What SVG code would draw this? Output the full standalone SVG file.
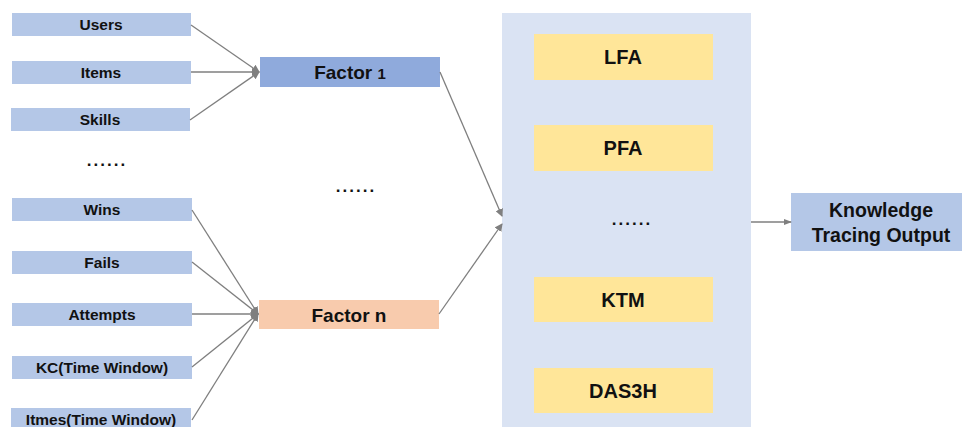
<svg xmlns="http://www.w3.org/2000/svg" width="962" height="427" viewBox="0 0 962 427">
  <style>
    text { font-family: "Liberation Sans", Arial, sans-serif; font-weight: bold; fill: #111; text-anchor: middle; }
    .in rect { fill: #b4c7e7; }
    .in text { font-size: 15.5px; }
    .model rect { fill: #ffe699; }
    .model text { font-size: 20px; }
    .fac text { font-size: 19px; }
    .dots { font-size: 17px; letter-spacing: 2px; }
    .conn line { stroke: #7f7f7f; stroke-width: 1.3; fill: none; }
  </style>
  <defs>
    <marker id="arr" markerWidth="8" markerHeight="8" refX="7" refY="4" orient="auto" markerUnits="userSpaceOnUse">
      <path d="M0,0 L8,4 L0,8 Z" fill="#7f7f7f"/>
    </marker>
    <marker id="arrS" markerWidth="8" markerHeight="6" refX="7" refY="3" orient="auto" markerUnits="userSpaceOnUse">
      <path d="M0,0 L8,3 L0,6 Z" fill="#7f7f7f"/>
    </marker>
  </defs>

  <!-- model panel -->
  <rect id="panel" x="502" y="13" width="249" height="420" fill="#dae3f3"/>

  <!-- input features -->
  <g id="users" class="in"><rect x="12" y="13" width="179" height="23"/><text x="101" y="30">Users</text></g>
  <g id="items" class="in"><rect x="12" y="61" width="179" height="23"/><text x="101" y="78">Items</text></g>
  <g id="skills" class="in"><rect x="11" y="108" width="179" height="23"/><text x="100" y="125">Skills</text></g>
  <text class="dots" x="107" y="166">......</text>
  <g id="wins" class="in"><rect x="12" y="198" width="180" height="23"/><text x="102" y="215">Wins</text></g>
  <g id="fails" class="in"><rect x="12" y="251" width="180" height="23"/><text x="102" y="268">Fails</text></g>
  <g id="attempts" class="in"><rect x="12" y="303" width="180" height="23"/><text x="102" y="320">Attempts</text></g>
  <g id="kc" class="in"><rect x="12" y="356" width="180" height="23"/><text x="102" y="373">KC(Time Window)</text></g>
  <g id="itmes" class="in"><rect x="11" y="408" width="180" height="23"/><text x="101" y="425">Itmes(Time Window)</text></g>

  <!-- factors -->
  <g id="factor1" class="fac"><rect x="260" y="57" width="180" height="30" fill="#8faadc"/><text x="350" y="79">Factor <tspan font-size="15px">1</tspan></text></g>
  <text class="dots" x="356" y="192">......</text>
  <g id="factorn" class="fac"><rect x="259" y="300" width="180" height="29" fill="#f8cbad"/><text x="349" y="322">Factor n</text></g>

  <!-- models -->
  <g id="lfa" class="model"><rect x="534" y="34" width="179" height="46"/><text x="623" y="64">LFA</text></g>
  <g id="pfa" class="model"><rect x="534" y="125" width="179" height="46"/><text x="623" y="155">PFA</text></g>
  <text class="dots" x="632" y="225">......</text>
  <g id="ktm" class="model"><rect x="534" y="277" width="179" height="45"/><text x="623" y="307">KTM</text></g>
  <g id="das3h" class="model"><rect x="534" y="368" width="179" height="45"/><text x="623" y="398">DAS3H</text></g>

  <!-- output -->
  <g id="output"><rect x="791" y="193" width="171" height="58" fill="#b4c7e7"/>
    <text x="881" y="217" font-size="19.5px">Knowledge</text>
    <text x="881" y="242" font-size="19.5px">Tracing Output</text></g>

  <!-- connectors -->
  <g id="connectors" class="conn">
    <line x1="191" y1="25" x2="259" y2="72" marker-end="url(#arr)"/>
    <line x1="191" y1="72" x2="259" y2="72" marker-end="url(#arr)"/>
    <line x1="190" y1="120" x2="259" y2="72" marker-end="url(#arr)"/>
    <line x1="192" y1="210" x2="258" y2="314" marker-end="url(#arr)"/>
    <line x1="192" y1="262" x2="258" y2="314" marker-end="url(#arr)"/>
    <line x1="192" y1="314" x2="258" y2="314" marker-end="url(#arr)"/>
    <line x1="192" y1="367" x2="258" y2="314" marker-end="url(#arr)"/>
    <line x1="192" y1="420" x2="258" y2="314" marker-end="url(#arr)"/>
    <line x1="440" y1="72" x2="502" y2="216" marker-end="url(#arr)"/>
    <line x1="439" y1="314" x2="502" y2="224" marker-end="url(#arr)"/>
    <line x1="751" y1="222" x2="791" y2="222" marker-end="url(#arrS)"/>
  </g>
</svg>
